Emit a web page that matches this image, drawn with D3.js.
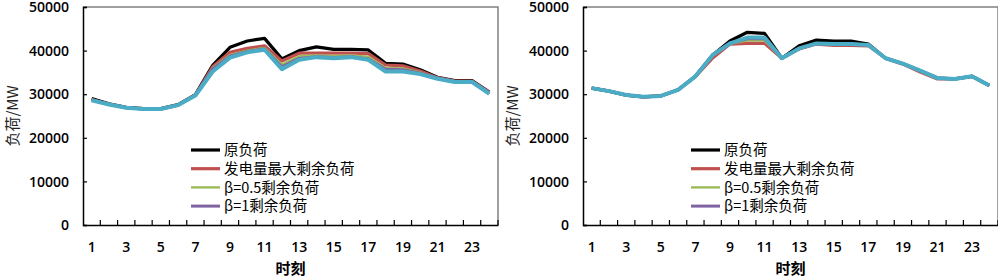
<!DOCTYPE html>
<html>
<head>
<meta charset="utf-8">
<script src="https://cdn.jsdelivr.net/npm/d3@7"></script>
<style>
  body { margin: 0; background: #fff; }
  text { font-family: "Open Sans", "Liberation Sans", sans-serif; }
  .cn { font-family: "Noto Sans CJK SC", sans-serif; }
</style>
</head>
<body>
<div id="container"></div>
<script>
const width = 998,
    height = 277,
    margin = { top: 7, bottom: 52, left: 83, right: 2 },
    panelW = 500;

// x categories
const hours = d3.range(1, 25)
const xTickLabels = hours.map(h => h % 2 === 1 ? String(h) : "")
const yTicks = [0, 10000, 20000, 30000, 40000, 50000]

const seriesNames = ["原负荷", "发电量最大剩余负荷", "β=0.5剩余负荷", "β=1剩余负荷", "其他"]
const seriesColors = ["#000000", "#c0504d", "#9bbb59", "#8064a2", "#4bacc6"]
const seriesWidths = [3.2, 3.2, 2.4, 3, 4]

// left chart
const leftOrig = [29000, 27800, 27000, 26700, 26700, 27600, 29900, 36600, 40750, 42200, 42800, 38100,
    40000, 40850, 40300, 40300, 40150, 37100, 36900, 35600, 33900, 33100, 33100, 30500]
const leftMaxGen = [28800, 27700, 26900, 26600, 26600, 27500, 29800, 36300, 39600, 40500, 41100, 37600,
    39400, 39400, 39400, 39400, 39300, 36700, 36500, 35300, 33800, 33000, 33000, 30400]
const leftB05 = [28700, 27700, 26900, 26600, 26600, 27500, 29800, 36000, 39000, 40000, 40600, 36800,
    38700, 38900, 38800, 38900, 38600, 36000, 35900, 35000, 33700, 33000, 32900, 30300]
const leftB1 = [28700, 27700, 26900, 26600, 26600, 27500, 29800, 35800, 38700, 39800, 40400, 36300,
    38200, 38600, 38400, 38600, 38100, 35700, 35600, 34800, 33700, 32900, 32900, 30200]
const leftOther = [28600, 27650, 26900, 26600, 26600, 27500, 29700, 35200, 38400, 39600, 40200, 35750,
    37900, 38500, 38250, 38500, 37900, 35200, 35200, 34600, 33550, 32800, 32800, 30100]

// right chart
const rightOrig = [31400, 30700, 29800, 29400, 29600, 31000, 34100, 39000, 42200, 44200, 43950, 38250,
    41100, 42400, 42200, 42200, 41500, 38250, 37000, 35400, 33700, 33500, 34100, 32000]
const rightMaxGen = [31400, 30700, 29800, 29400, 29600, 31000, 34000, 38300, 41500, 41650, 41650, 38250,
    40400, 41500, 41200, 41200, 41100, 38250, 36900, 35100, 33500, 33500, 34100, 32000]
const rightB05 = [31400, 30700, 29800, 29400, 29600, 31000, 34100, 38800, 41600, 42300, 42300, 38250,
    40500, 41600, 41500, 41500, 41300, 38250, 37000, 35400, 33700, 33500, 34100, 32000]
const rightB1 = [31400, 30700, 29800, 29400, 29600, 31000, 34100, 38900, 41700, 42700, 42700, 38250,
    40500, 41600, 41500, 41500, 41300, 38250, 37000, 35400, 33700, 33500, 34100, 32000]
const rightOther = [31400, 30700, 29800, 29400, 29600, 31000, 34100, 39000, 41650, 43000, 43000, 38250,
    40500, 41650, 41500, 41500, 41300, 38250, 37000, 35400, 33700, 33500, 34100, 32000]

const svg = d3.select("#container")
    .append("svg")
    .attr("width", width)
    .attr("height", height)

function drawChart(offsetX, seriesData) {
    const g = svg.append("g").attr("transform", `translate(${offsetX},0)`)
    const plotRight = panelW - margin.right

    const xScale = d3.scaleBand()
        .domain(hours)
        .range([margin.left, plotRight])

    const yScale = d3.scaleLinear()
        .domain([0, 50000])
        .range([height - margin.bottom, margin.top])

    // box: top and right border
    g.append("path")
        .attr("d", `M${margin.left},${margin.top}H${plotRight}V${height - margin.bottom}`)
        .attr("fill", "none")
        .attr("stroke", "#808080")
        .attr("stroke-width", 1.5)

    // Y AXIS (ticks point inward)
    const yAxis = d3.axisLeft(yScale).tickValues(yTicks).tickSize(-4).tickPadding(14)
        .tickFormat(d3.format("d"))
    const yg = g.append("g")
        .attr("transform", `translate(${margin.left},0)`)
        .call(yAxis)
    yg.select(".domain").attr("stroke", "#000").attr("stroke-width", 1.5)
    yg.selectAll(".tick line").attr("stroke", "#000").attr("stroke-width", 1.2)
    yg.selectAll(".tick text")
        .attr("font-size", 14)
        .attr("font-weight", 600)
        .attr("fill", "#000")
        .attr("dy", "0.34em")

    // X AXIS - ticks between categories, pointing up
    const xAxis = d3.axisBottom(xScale).tickSize(0).tickPadding(17)
        .tickFormat((d, i) => xTickLabels[i])
    const xg = g.append("g")
        .attr("transform", `translate(0,${height - margin.bottom})`)
        .call(xAxis)
    xg.select(".domain").attr("stroke", "#000").attr("stroke-width", 1.5)
    xg.selectAll(".tick text")
        .attr("font-size", 14)
        .attr("font-weight", 600)
        .attr("fill", "#000")
    xg.selectAll(".sep")
        .data(hours.slice(1).concat([25]))
        .join("line")
        .attr("class", "sep")
        .attr("x1", d => xScale(d) !== undefined ? xScale(d) : plotRight)
        .attr("x2", d => xScale(d) !== undefined ? xScale(d) : plotRight)
        .attr("y1", 0)
        .attr("y2", -5)
        .attr("stroke", "#000")
        .attr("stroke-width", 1.2)

    // lines
    const line = d3.line()
        .x((d, i) => xScale(hours[i]) + xScale.bandwidth() / 2)
        .y(d => yScale(d))

    g.selectAll(".series")
        .data(seriesData)
        .join("path")
        .attr("class", "series")
        .attr("d", d => line(d))
        .attr("fill", "none")
        .attr("stroke", (d, i) => seriesColors[i])
        .attr("stroke-width", (d, i) => seriesWidths[i])
        .attr("stroke-linejoin", "round")

    // legend (first four series)
    const legend = g.selectAll(".legend")
        .data(seriesNames.slice(0, 4))
        .join("g")
        .attr("class", "legend")
        .attr("transform", (d, i) => `translate(${margin.left + 108},${150 + i * 18.7})`)
    legend.append("line")
        .attr("x1", 0)
        .attr("x2", 29)
        .attr("stroke", (d, i) => seriesColors[i])
        .attr("stroke-width", (d, i) => seriesWidths[i])
    legend.append("text")
        .attr("class", "cn")
        .attr("x", 33)
        .attr("dy", "0.36em")
        .attr("font-size", 14.5)
        .attr("fill", "#000")
        .text(d => d)

    // axis titles
    g.append("text")
        .attr("class", "cn")
        .attr("transform", `translate(18,${(margin.top + height - margin.bottom) / 2}) rotate(-90)`)
        .attr("text-anchor", "middle")
        .attr("font-size", 15)
        .attr("fill", "#222")
        .text("负荷/MW")

    g.append("text")
        .attr("class", "cn")
        .attr("x", (margin.left + plotRight) / 2)
        .attr("y", 274)
        .attr("text-anchor", "middle")
        .attr("font-size", 15)
        .attr("font-weight", "bold")
        .attr("fill", "#000")
        .text("时刻")
}

drawChart(0, [leftOrig, leftMaxGen, leftB05, leftB1, leftOther])
drawChart(panelW, [rightOrig, rightMaxGen, rightB05, rightB1, rightOther])
</script>
</body>
</html>
